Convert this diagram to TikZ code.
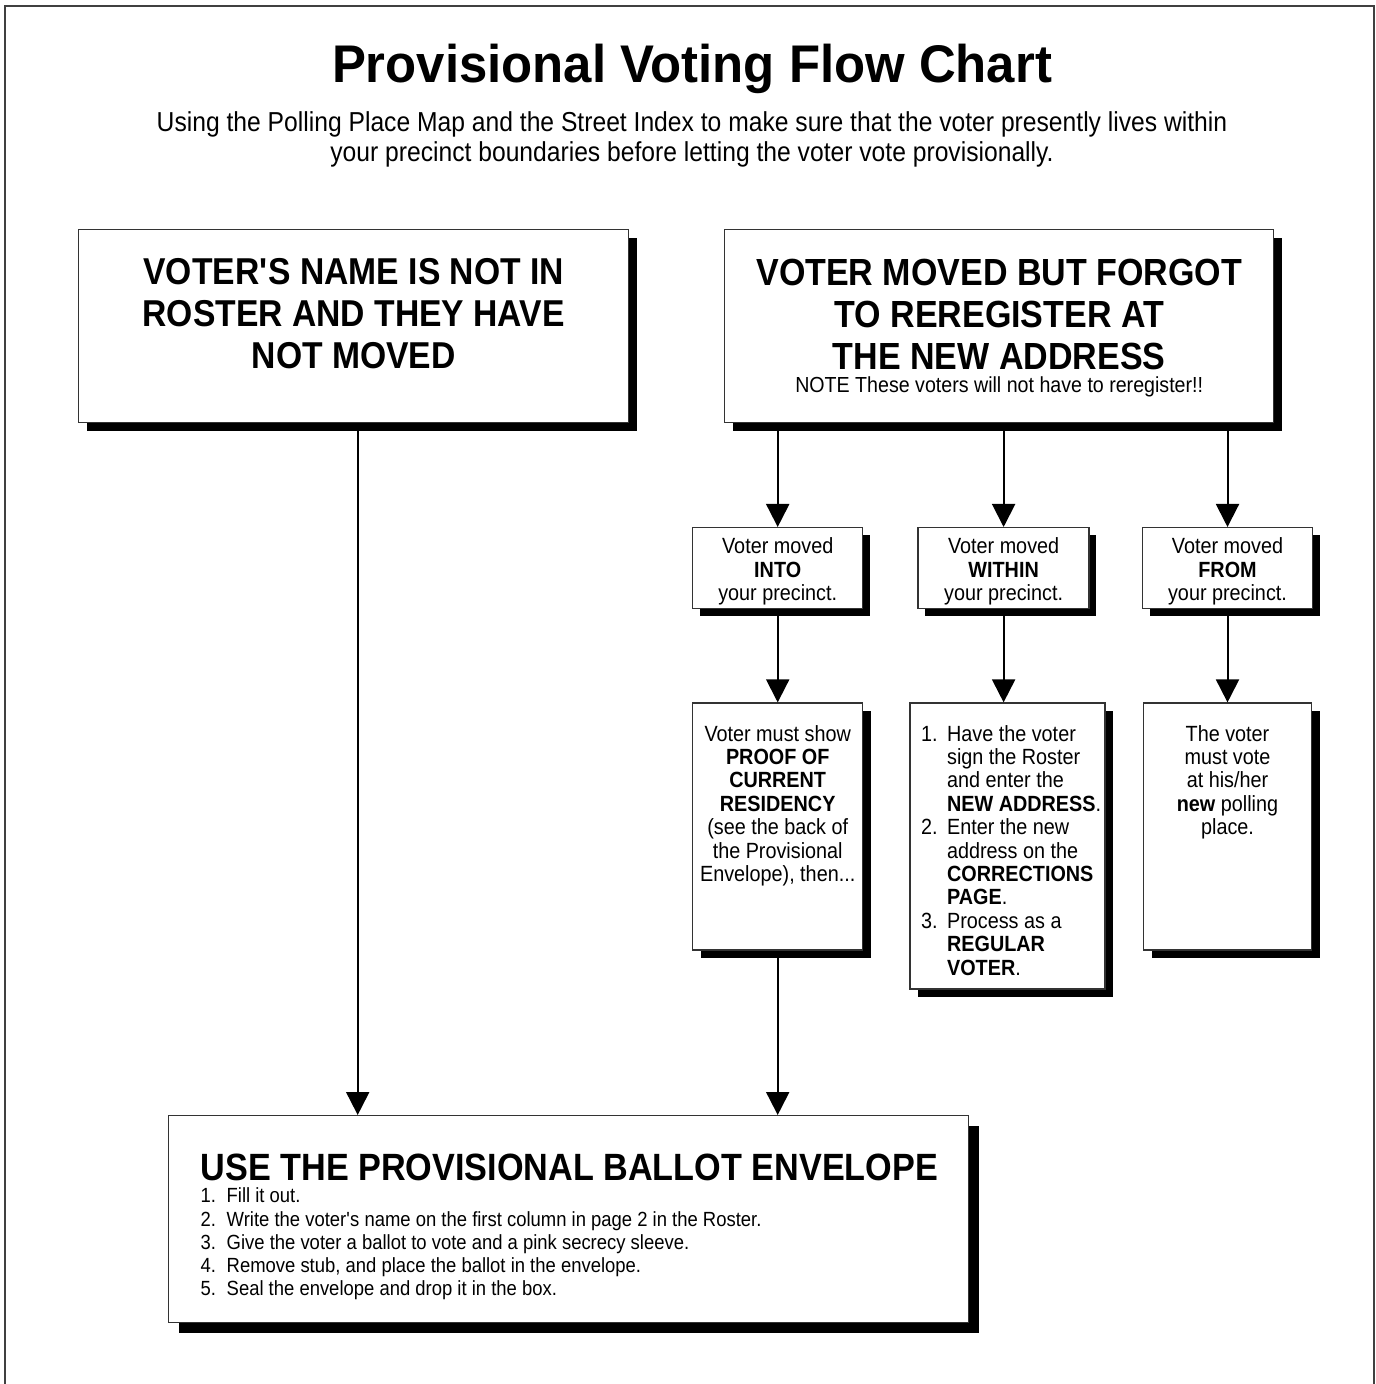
\documentclass[tikz,border=0pt]{standalone}
\usepackage{fontspec}
\setmainfont{Liberation Sans}[FakeStretch=0.9]
\newfontfamily\titlefont{Liberation Sans}[FakeStretch=0.96]
\usetikzlibrary{arrows.meta, positioning, shadows}

\newcommand{\panelbody}[4]{\parbox[c][#2][t]{#1}{\vspace*{#3}#4\par}}
\newcommand{\itemno}[1]{\makebox[13pt][l]{#1}}

\begin{document}
\begin{tikzpicture}[x=0.5pt, y=0.5pt, node distance=27pt,
  outerframe/.style={draw=black!75, line width=0.8pt},
  panel/.style={draw=black!80, line width=0.7pt, fill=white, anchor=north west, inner sep=0pt},
  backdrop/.style={drop shadow={shadow xshift=#1, shadow yshift=-#1, opacity=1, fill=black}},
  line/.style={draw, line width=1pt, -{Triangle[width=11.5pt, length=11.5pt]}}]

  \useasboundingbox (0,0) rectangle (1375,-1384);
  \draw[outerframe] (5,-1420) -- (5,-6) -- (1374,-6) -- (1374,-1420);

  \node[inner sep=0pt, anchor=base] (title) at (692,-83)
    {\titlefont\fontsize{26.5}{30}\selectfont\bfseries Provisional Voting Flow Chart};
  \node[inner sep=0pt, align=center, below=8.5pt of title, font=\fontsize{13.7}{15}\selectfont] (subtitle)
    {Using the Polling Place Map and the Street Index to make sure that the voter presently lives within\\
     your precinct boundaries before letting the voter vote provisionally.};

  % the two starting cases
  \node[panel, backdrop=4pt] (notmoved) at (78,-229)
    {\panelbody{275pt}{96.5pt}{14.5pt}{\centering\fontsize{18.7}{21}\selectfont\bfseries
      VOTER\textquotesingle S NAME IS NOT IN\\ ROSTER AND THEY HAVE\\ NOT MOVED}};
  \node[panel, backdrop=4pt] (forgot) at (724,-229)
    {\panelbody{274.5pt}{96.5pt}{14.5pt}{\centering\fontsize{18.9}{21}\selectfont\bfseries
      VOTER MOVED BUT FORGOT\\ TO REREGISTER AT\\ THE NEW ADDRESS\par
      \fontsize{10.9}{11.5}\selectfont\mdseries NOTE These voters will not have to reregister!!}};

  % where the voter moved
  \node[panel, backdrop=3.5pt] (into) at (692,-527)
    {\panelbody{85pt}{40.5pt}{5pt}{\centering\fontsize{11}{11.7}\selectfont
      Voter moved\\ \textbf{INTO}\\ your precinct.}};
  \node[panel, backdrop=3.5pt, right=27pt of into] (within)
    {\panelbody{85.5pt}{40.5pt}{5pt}{\centering\fontsize{11}{11.7}\selectfont
      Voter moved\\ \textbf{WITHIN}\\ your precinct.}};
  \node[panel, backdrop=3.5pt, right=26pt of within] (from)
    {\panelbody{85pt}{40.5pt}{5pt}{\centering\fontsize{11}{11.7}\selectfont
      Voter moved\\ \textbf{FROM}\\ your precinct.}};

  % what to do then
  \node[panel, backdrop=4pt, below=46.5pt of into] (proof)
    {\panelbody{85pt}{123.5pt}{11pt}{\centering\fontsize{11}{11.7}\selectfont
      Voter must show\\ \textbf{PROOF OF}\\ \textbf{CURRENT}\\ \textbf{RESIDENCY}\\
      (see the back of\\ the Provisional\\ Envelope), then...}};
  \node[panel, backdrop=4pt, below=46.5pt of within, xshift=2pt] (steps)
    {\panelbody{97.5pt}{143pt}{11pt}{\raggedright\leftskip=5.5pt\fontsize{11}{11.7}\selectfont
      \itemno{1.}Have the voter\\ \hspace*{13pt}sign the Roster\\ \hspace*{13pt}and enter the\\
      \hspace*{13pt}\textbf{NEW ADDRESS}.\\
      \itemno{2.}Enter the new\\ \hspace*{13pt}address on the\\ \hspace*{13pt}\textbf{CORRECTIONS}\\
      \hspace*{13pt}\textbf{PAGE}.\\
      \itemno{3.}Process as a\\ \hspace*{13pt}\textbf{REGULAR}\\ \hspace*{13pt}\textbf{VOTER}.}};
  \node[panel, backdrop=4pt, below=46.5pt of from] (newplace)
    {\panelbody{84pt}{123.5pt}{11pt}{\centering\fontsize{11}{11.7}\selectfont
      The voter\\ must vote\\ at his/her\\ \textbf{new} polling\\ place.}};

  \node[panel, backdrop=5pt] (envelope) at (168,-1115)
    {\panelbody{400pt}{103.5pt}{19pt}{\raggedright\leftskip=16pt
      \fontsize{19}{20}\selectfont\bfseries USE THE PROVISIONAL BALLOT ENVELOPE\par\vspace{-0.4pt}
      \fontsize{10.25}{11.65}\selectfont\mdseries
      \itemno{1.}Fill it out.\\
      \itemno{2.}Write the voter\textquotesingle s name on the first column in page 2 in the Roster.\\
      \itemno{3.}Give the voter a ballot to vote and a pink secrecy sleeve.\\
      \itemno{4.}Remove stub, and place the ballot in the envelope.\\
      \itemno{5.}Seal the envelope and drop it in the box.}};

  \path[line] ([xshift=2pt]notmoved.south) -- ([xshift=2pt]notmoved.south |- envelope.north);
  \path[line] (into.north |- forgot.south) -- (into.north);
  \path[line] (within.north |- forgot.south) -- (within.north);
  \path[line] (from.north |- forgot.south) -- (from.north);
  \path[line] (into.south) -- (proof.north);
  \path[line] (within.south) -- (within.south |- steps.north);
  \path[line] (from.south) -- (from.south |- newplace.north);
  \path[line] (proof.south) -- (proof.south |- envelope.north);
\end{tikzpicture}
\end{document}
